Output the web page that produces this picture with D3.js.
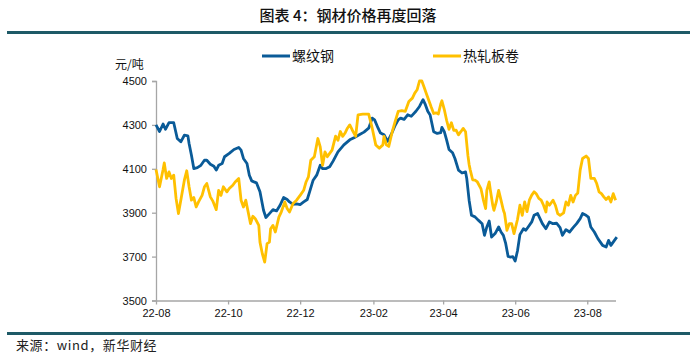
<!DOCTYPE html>
<html><head><meta charset="utf-8">
<script src="https://cdn.jsdelivr.net/npm/d3@7"></script>
<style>
html,body{margin:0;padding:0;background:#fff;}
svg{display:block;}
</style></head>
<body>
<svg id="c" width="697" height="356"></svg>
<script>
const title = "图表 4：钢材价格再度回落";
const source = "来源：wind，新华财经";
const unitLabel = "元/吨";
const seriesNames = ["螺纹钢", "热轧板卷"];
const seriesColors = ["#0A5B98", "#FFC000"];
const yTicks = [3500, 3700, 3900, 4100, 4300, 4500];
const xTickDates = ["2022-08-01","2022-10-01","2022-12-01","2023-02-01","2023-04-01","2023-06-01","2023-08-01"];

const rebarDates = ["2022-08-01","2022-08-04","2022-08-07","2022-08-09","2022-08-12","2022-08-16","2022-08-19","2022-08-22","2022-08-25","2022-08-28","2022-08-29","2022-08-31",
"2022-09-02","2022-09-05","2022-09-08","2022-09-11","2022-09-13","2022-09-16","2022-09-19","2022-09-21","2022-09-23","2022-09-26","2022-09-28",
"2022-10-02","2022-10-06","2022-10-10","2022-10-12","2022-10-14","2022-10-17","2022-10-19","2022-10-21","2022-10-25","2022-10-28","2022-10-31",
"2022-11-02","2022-11-05","2022-11-08","2022-11-11","2022-11-14","2022-11-17","2022-11-20","2022-11-22","2022-11-25","2022-11-28",
"2022-12-01","2022-12-04","2022-12-07","2022-12-09","2022-12-12","2022-12-15","2022-12-18","2022-12-20","2022-12-23","2022-12-26","2022-12-29",
"2023-01-02","2023-01-07","2023-01-12","2023-01-16","2023-01-20","2023-01-24","2023-01-28","2023-01-31",
"2023-02-02","2023-02-05","2023-02-07","2023-02-10","2023-02-13","2023-02-16","2023-02-19","2023-02-22","2023-02-24","2023-02-27",
"2023-03-02","2023-03-05","2023-03-09","2023-03-12","2023-03-15","2023-03-17","2023-03-19","2023-03-21","2023-03-24","2023-03-27","2023-03-30","2023-03-31",
"2023-04-02","2023-04-04","2023-04-06","2023-04-09","2023-04-11","2023-04-14","2023-04-17","2023-04-20","2023-04-21","2023-04-23","2023-04-25","2023-04-28",
"2023-05-01","2023-05-04","2023-05-06","2023-05-08","2023-05-10","2023-05-12","2023-05-15","2023-05-18","2023-05-20","2023-05-22","2023-05-24","2023-05-26","2023-05-28","2023-05-30",
"2023-06-01","2023-06-03","2023-06-05","2023-06-08","2023-06-10","2023-06-12","2023-06-15","2023-06-17","2023-06-20","2023-06-22","2023-06-24","2023-06-27","2023-06-30",
"2023-07-03","2023-07-06","2023-07-09","2023-07-11","2023-07-14","2023-07-17","2023-07-20","2023-07-23","2023-07-26","2023-07-28","2023-07-31",
"2023-08-02","2023-08-04","2023-08-07","2023-08-10","2023-08-14","2023-08-17","2023-08-19","2023-08-21","2023-08-24","2023-08-26"];
const rebarValues = [4300,4270,4304,4280,4310,4310,4238,4223,4253,4250,4215,4162,
4101,4105,4116,4139,4139,4121,4112,4094,4116,4124,4155,
4170,4188,4197,4185,4147,4124,4071,4045,4036,3995,3911,
3878,3896,3914,3908,3934,3969,3960,3949,3938,3940,
3937,3949,3960,3995,4048,4071,4116,4101,4101,4109,4136,
4177,4209,4232,4243,4255,4267,4285,4331,
4323,4285,4263,4255,4225,4255,4293,4323,4331,4325,
4346,4339,4362,4384,4415,4392,4362,4345,4269,4261,4265,4289,
4269,4231,4188,4173,4147,4094,4081,4086,4056,3957,3888,3881,
3865,3850,3797,3835,3862,3789,3805,3835,3812,3797,3759,3701,3698,3700,
3680,3728,3800,3827,3820,3835,3858,3888,3896,3873,3850,3827,3858,
3850,3852,3832,3797,3823,3812,3832,3850,3873,3896,3888,
3880,3835,3812,3782,3751,3744,3774,3751,3774,3789];

const hrcDates = ["2022-08-01","2022-08-04","2022-08-07","2022-08-08","2022-08-10","2022-08-12","2022-08-14","2022-08-16","2022-08-18","2022-08-20","2022-08-22","2022-08-25","2022-08-27","2022-08-29","2022-08-31",
"2022-09-02","2022-09-04","2022-09-06","2022-09-09","2022-09-11","2022-09-13","2022-09-16","2022-09-18","2022-09-21","2022-09-23","2022-09-25","2022-09-27","2022-09-30",
"2022-10-02","2022-10-05","2022-10-07","2022-10-10","2022-10-12","2022-10-14","2022-10-16","2022-10-18","2022-10-20","2022-10-22","2022-10-24","2022-10-27","2022-10-28","2022-10-30",
"2022-11-01","2022-11-03","2022-11-05","2022-11-06","2022-11-08","2022-11-10","2022-11-13","2022-11-15","2022-11-18","2022-11-20","2022-11-22","2022-11-25","2022-11-28",
"2022-12-01","2022-12-04","2022-12-06","2022-12-08","2022-12-10","2022-12-13","2022-12-16","2022-12-18","2022-12-20","2022-12-22","2022-12-24","2022-12-26","2022-12-28","2022-12-31",
"2023-01-02","2023-01-04","2023-01-06","2023-01-08","2023-01-10","2023-01-12","2023-01-14","2023-01-17","2023-01-19","2023-01-23","2023-01-28","2023-01-31",
"2023-02-03","2023-02-06","2023-02-09","2023-02-10","2023-02-12","2023-02-14","2023-02-17","2023-02-19","2023-02-22","2023-02-25","2023-02-28",
"2023-03-03","2023-03-06","2023-03-08","2023-03-10","2023-03-12","2023-03-14","2023-03-16","2023-03-18","2023-03-20","2023-03-22","2023-03-24","2023-03-26","2023-03-28","2023-03-30","2023-03-31",
"2023-04-02","2023-04-04","2023-04-06","2023-04-08","2023-04-10","2023-04-12","2023-04-14","2023-04-16","2023-04-18","2023-04-20","2023-04-22","2023-04-23","2023-04-24","2023-04-26","2023-04-28","2023-04-30",
"2023-05-03","2023-05-05","2023-05-07","2023-05-08","2023-05-10","2023-05-11","2023-05-13","2023-05-14","2023-05-16","2023-05-18","2023-05-20","2023-05-22","2023-05-23","2023-05-25","2023-05-27","2023-05-29","2023-05-31",
"2023-06-03","2023-06-05","2023-06-07","2023-06-09","2023-06-11","2023-06-13","2023-06-15","2023-06-17","2023-06-19","2023-06-21","2023-06-23","2023-06-25","2023-06-27","2023-06-28","2023-06-30",
"2023-07-03","2023-07-05","2023-07-07","2023-07-09","2023-07-12","2023-07-14","2023-07-16","2023-07-18","2023-07-20","2023-07-22","2023-07-24","2023-07-26","2023-07-28","2023-07-31",
"2023-08-02","2023-08-04","2023-08-07","2023-08-09","2023-08-11","2023-08-13","2023-08-15","2023-08-17","2023-08-19","2023-08-21","2023-08-23","2023-08-25"];
const hrcValues = [4097,4018,4097,4127,4056,4086,4056,4071,3964,3896,3957,4048,4091,4018,3957,
3969,3926,3949,3979,4018,4033,3972,3954,3914,4002,3979,4018,3995,
4010,4025,4040,4056,3957,3926,3957,3903,3850,3884,3873,3842,3766,3713,
3675,3759,3766,3827,3842,3812,3880,3903,3949,3919,3903,3942,3957,
3979,4002,4040,4063,4139,4155,4238,4200,4116,4177,4155,4170,4185,4249,
4230,4270,4248,4263,4285,4300,4278,4248,4346,4349,4349,4285,
4209,4194,4209,4248,4209,4202,4270,4308,4362,4365,4362,
4407,4422,4445,4460,4500,4500,4470,4440,4410,4380,4352,4355,4350,4395,4410,
4370,4320,4280,4310,4275,4276,4255,4269,4284,4269,4160,4120,4094,4050,4048,4040,
4010,3960,3919,4002,4040,4002,3934,3911,3949,4002,3957,3911,3896,3820,3850,3850,3805,
3870,3934,3888,3949,3905,3957,3980,3995,3985,3965,3957,3934,3903,3949,3934,
3957,3934,3896,3888,3899,3949,3934,3979,3949,3979,3990,4094,4147,4158,
4147,4056,4056,4033,3995,3987,3972,3960,3972,3949,3987,3957];

const parse = d3.timeParse("%Y-%m-%d");
const svg = d3.select("#c");
const cjk = "'Noto Sans CJK SC','Noto Sans',sans-serif";
const num = "'Liberation Sans',Arial,sans-serif";

const x = d3.scaleTime().domain([parse("2022-08-01"), parse("2023-08-26")]).range([156, 616.8]);
const y = d3.scaleLinear().domain([3500, 4500]).range([300.5, 81]);

// title + rules
svg.append("text").attr("x", 348).attr("y", 21).attr("text-anchor", "middle")
  .style("font-family", cjk).style("font-size", "15px").style("font-weight", "500").attr("fill", "#111").text(title);
svg.append("rect").attr("x", 7).attr("y", 31).attr("width", 683).attr("height", 3).attr("fill", "#1E5A67");
svg.append("rect").attr("x", 7).attr("y", 332).attr("width", 683).attr("height", 3).attr("fill", "#1E5A67");
svg.append("text").attr("x", 16).attr("y", 350)
  .style("font-family", cjk).style("font-size", "13px").style("letter-spacing", "0.6px").attr("fill", "#222").text(source);

// axes
const axisColor = "#A6A6A6";
const yAxis = svg.append("g").attr("transform", "translate(156,0)")
  .call(d3.axisLeft(y).tickValues(yTicks).tickSize(4).tickPadding(5).tickFormat(d3.format("d")));
const xAxis = svg.append("g").attr("transform", "translate(0,300.5)")
  .call(d3.axisBottom(x).tickValues(xTickDates.map(parse)).tickSize(4).tickPadding(5).tickFormat(d3.timeFormat("%y-%m")));
[yAxis, xAxis].forEach(g => {
  g.select(".domain").attr("stroke", axisColor).attr("stroke-width", 1.3);
  g.selectAll(".tick line").attr("stroke", axisColor).attr("stroke-width", 1.3);
  g.selectAll(".tick text").attr("fill", "#111").style("font-family", num).style("font-size", "11px");
});
xAxis.select(".domain").attr("d", "M156,0.5H616");

svg.append("text").attr("x", 115).attr("y", 69)
  .style("font-family", cjk).style("font-size", "12px").attr("fill", "#111").text(unitLabel);

// lines
const line = d3.line().x(d => x(d[0])).y(d => y(d[1]));
const rebar = rebarDates.map((d, i) => [parse(d), rebarValues[i]]);
const hrc = hrcDates.map((d, i) => [parse(d), hrcValues[i]]);
[rebar, hrc].forEach((data, i) => {
  svg.append("path").datum(data).attr("d", line).attr("fill", "none")
    .attr("stroke", seriesColors[i]).attr("stroke-width", 2.8).attr("stroke-linejoin", "round");
});

// legend
const legendX = [262, 433];
seriesNames.forEach((n, i) => {
  svg.append("line").attr("x1", legendX[i]).attr("x2", legendX[i] + 28).attr("y1", 56).attr("y2", 56)
    .attr("stroke", seriesColors[i]).attr("stroke-width", 3);
  svg.append("text").attr("x", legendX[i] + 30).attr("y", 61)
    .style("font-family", cjk).style("font-size", "14px").attr("fill", "#111").text(n);
});
</script>
</body></html>
